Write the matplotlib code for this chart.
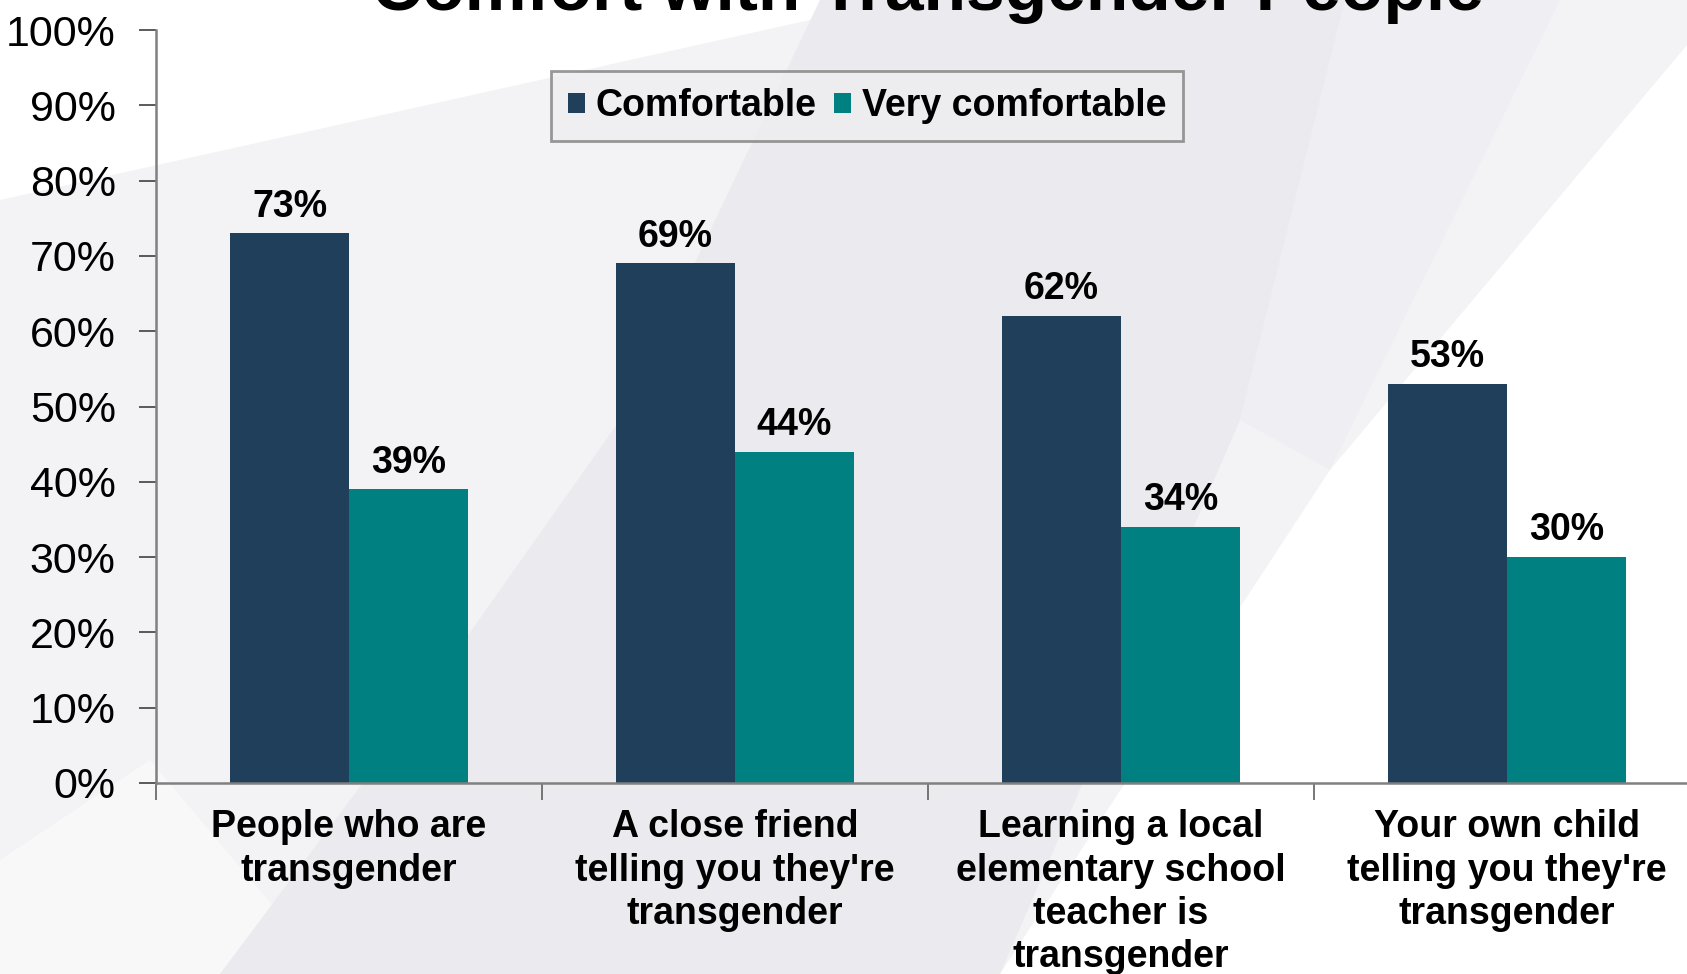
import matplotlib.pyplot as plt
from matplotlib.patches import Polygon, Patch
import numpy as np

plt.rcParams['font.family'] = ['Liberation Sans', 'DejaVu Sans']

categories = ["People who are\ntransgender",
              "A close friend\ntelling you they're\ntransgender",
              "Learning a local\nelementary school\nteacher is\ntransgender",
              "Your own child\ntelling you they're\ntransgender"]
comfortable = [73, 69, 62, 53]
very_comfortable = [39, 44, 34, 30]
series_names = ["Comfortable", "Very comfortable"]
yticks = [0, 10, 20, 30, 40, 50, 60, 70, 80, 90, 100]

W, H = 1687, 974
fig = plt.figure(figsize=(W / 100, H / 100), dpi=100)
fig.patch.set_facecolor('white')

# background shapes (pixel coords, y down)
def bg(pts, color):
    xy = [(x / W, 1 - y / H) for x, y in pts]
    fig.add_artist(Polygon(xy, closed=True, transform=fig.transFigure,
                           facecolor=color, edgecolor='none', zorder=-10))

bg([(0, 200), (900, 0), (1687, 0), (1687, 45), (1330, 470), (1000, 974),
   (0, 974)], '#f3f3f5')
bg([(0, 860), (150, 760), (330, 974), (0, 974)], '#f8f8f9')
bg([(220, 974), (380, 760), (620, 420), (820, 0), (1345, 0), (1240, 420),
   (1000, 974)], '#ebebef')
bg([(1345, 0), (1560, 0), (1330, 470), (1240, 420)], '#efeff3')

ax = fig.add_axes([156 / W, 1 - 783 / H, 1544 / W, 753 / H])
ax.set_facecolor('none')

x = np.arange(len(categories))
w = 0.308
dark = '#1f3f5b'
teal = '#008080'
b1 = ax.bar(x - w / 2, comfortable, w, color=dark, zorder=2)
b2 = ax.bar(x + w / 2, very_comfortable, w, color=teal, zorder=2)

for bars, vals in [(b1, comfortable), (b2, very_comfortable)]:
    for r, v in zip(bars, vals):
        ax.annotate(f"{v}%", (r.get_x() + r.get_width() / 2, v),
                    xytext=(0, 12), textcoords='offset points',
                    ha='center', va='baseline', fontsize=27, fontweight='bold')

ax.set_xlim(-0.5, 3.5)
ax.set_ylim(0, 100)
ax.set_yticks(yticks)
ax.set_yticklabels([f"{t}%" for t in yticks], fontsize=31)
ax.tick_params(axis='y', length=12, width=1.2, color='#404040', pad=17)

ax.set_xticks(x)
ax.set_xticklabels(categories, fontsize=27, fontweight='bold', linespacing=1.26)
ax.tick_params(axis='x', which='major', length=0, pad=19)
ax.set_xticks(np.arange(-0.5, 3.6, 1), minor=True)
ax.tick_params(axis='x', which='minor', length=12, width=1.2, color='#606060')

for s in ['top', 'right']:
    ax.spines[s].set_visible(False)
for s in ['left', 'bottom']:
    ax.spines[s].set_color('#808080')
    ax.spines[s].set_linewidth(1.8)

fig.text(928 / W, 1 - 10 / H, "Comfort with Transgender People",
         ha='center', va='baseline', fontsize=50, fontweight='bold')

handles = [Patch(facecolor=dark), Patch(facecolor=teal)]
leg = fig.legend(handles, series_names, loc='center', ncol=2,
                 bbox_to_anchor=(867 / W, 1 - 106 / H),
                 prop={'size': 27, 'weight': 'bold'}, fancybox=False,
                 handlelength=0.45, handleheight=0.45, handletextpad=0.3,
                 columnspacing=0.45, borderpad=0.45, borderaxespad=0)
leg.get_frame().set_edgecolor('#808080')
leg.get_frame().set_linewidth(2)
leg.get_frame().set_facecolor('#eeeef1')

fig.savefig('out.png', dpi=100)
